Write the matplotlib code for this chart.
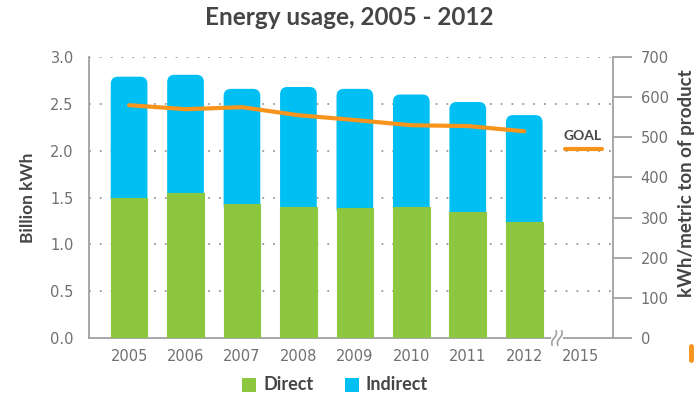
import numpy as np
import matplotlib.pyplot as plt
from matplotlib.patches import FancyBboxPatch, Rectangle
from matplotlib.lines import Line2D

# data
years = ["2005", "2006", "2007", "2008", "2009", "2010", "2011", "2012"]
direct = [1.50, 1.55, 1.43, 1.40, 1.39, 1.40, 1.35, 1.24]
total = [2.79, 2.81, 2.66, 2.68, 2.66, 2.60, 2.52, 2.38]
intensity = [580, 570, 575, 555, 543, 530, 528, 515]
goal_year = "2015"
goal_value = 470

green = "#8DC63F"
blue = "#00BFF3"
orange = "#F7941D"
grey_txt = "#707070"
dark_txt = "#454545"
spine_col = "#A0A0A0"

plt.rcParams["font.family"] = ["Lato", "DejaVu Sans"]
tick_font = {"family": "DejaVu Sans", "size": 10.5, "color": grey_txt}

fig = plt.figure(figsize=(6.98, 4.0), dpi=100)
ax = fig.add_axes([0.1275, 0.155, 0.7505, 0.7025])
ax2 = ax.twinx()

x = np.arange(len(years))
w = 0.65

# indirect part as rounded box, its lower corners hidden under the direct bar
for xi, d, t in zip(x, direct, total):
    box = FancyBboxPatch((xi - w / 2, d - 0.09), w, t - d + 0.09,
                         boxstyle="round,pad=0,rounding_size=0.13",
                         mutation_aspect=0.6,
                         fc=blue, ec="none", zorder=2)
    ax.add_patch(box)
ax.bar(x, direct, width=w, color=green, edgecolor=green, linewidth=0.8, zorder=3)

ax.set_xlim(-0.71, 8.57)
ax.set_ylim(0, 3.0)
ax.set_yticks(np.arange(0, 3.01, 0.5))
ax.set_yticklabels(["%.1f" % v for v in np.arange(0, 3.01, 0.5)], fontdict=tick_font)
ax.set_xticks(list(x) + [8])
ax.set_xticklabels(years + [goal_year], fontdict=tick_font)
ax.tick_params(axis="both", length=0)
ax.tick_params(axis="x", pad=8)
ax.tick_params(axis="y", pad=11)

# dotted grid
for v in np.arange(0.5, 3.01, 0.5):
    ax.axhline(v, color="#999999", lw=1.3, ls=(0, (1, 5)), zorder=1)

ax.spines["top"].set_visible(False)
ax.spines["right"].set_visible(False)
for s in ["left", "bottom"]:
    ax.spines[s].set_color(spine_col)
    ax.spines[s].set_linewidth(1.3)
for s in ["top", "left", "bottom"]:
    ax2.spines[s].set_visible(False)
ax2.spines["right"].set_color(spine_col)
ax2.spines["right"].set_linewidth(1.3)

ax.set_ylabel("Billion kWh", fontsize=12.5, fontweight="bold", color=dark_txt, labelpad=10)

# intensity line
ax2.plot(x, intensity, color=orange, lw=3, solid_capstyle="round", zorder=4)
ax2.plot([7.72, 8.37], [goal_value, goal_value], color=orange, lw=3, solid_capstyle="round")
ax2.text(8.04, goal_value + 18, "GOAL", ha="center", va="bottom", fontsize=10,
         fontweight="bold", color=dark_txt)
ax2.set_ylim(0, 700)
ax2.set_yticks(range(0, 701, 100))
ax2.set_yticklabels([str(v) for v in range(0, 701, 100)], fontdict=tick_font)
ax2.tick_params(axis="y", length=14, width=1.3, color=spine_col, pad=6)
ax2.set_ylabel("kWh/metric ton of product", fontsize=13.5, fontweight="bold",
               color=dark_txt)
ax2.yaxis.set_label_coords(1.125, 0.55)

# axis break between 2012 and 2015
bx = 7.58
ax.add_patch(Rectangle((bx - 0.1, -0.03), 0.2, 0.06, fc="white", ec="none",
                       clip_on=False, zorder=6))
tt = np.linspace(-1, 1, 30)
for dx in (-0.05, 0.05):
    ax.plot(bx + dx + 0.035 * tt + 0.02 * np.sin(np.pi * tt), 0.075 * tt,
            color=spine_col, lw=1.2, clip_on=False, zorder=7)

# orange marker under right label
fig.add_artist(Line2D([0.99, 0.99], [0.1, 0.135], color=orange, lw=3.5,
                      solid_capstyle="round"))

fig.suptitle("Energy usage, 2005 - 2012", x=0.5, y=0.985, fontsize=17.5,
             fontweight="bold", color=dark_txt)

# legend
fig.add_artist(Rectangle((0.347, 0.02), 0.02, 0.035, fc=green, ec="none",
                         transform=fig.transFigure))
fig.text(0.378, 0.0375, "Direct", fontsize=13, fontweight="bold", color=dark_txt, va="center")
fig.add_artist(Rectangle((0.494, 0.02), 0.02, 0.035, fc=blue, ec="none",
                         transform=fig.transFigure))
fig.text(0.524, 0.0375, "Indirect", fontsize=13, fontweight="bold", color=dark_txt, va="center")

plt.savefig("out.png", dpi=100)
